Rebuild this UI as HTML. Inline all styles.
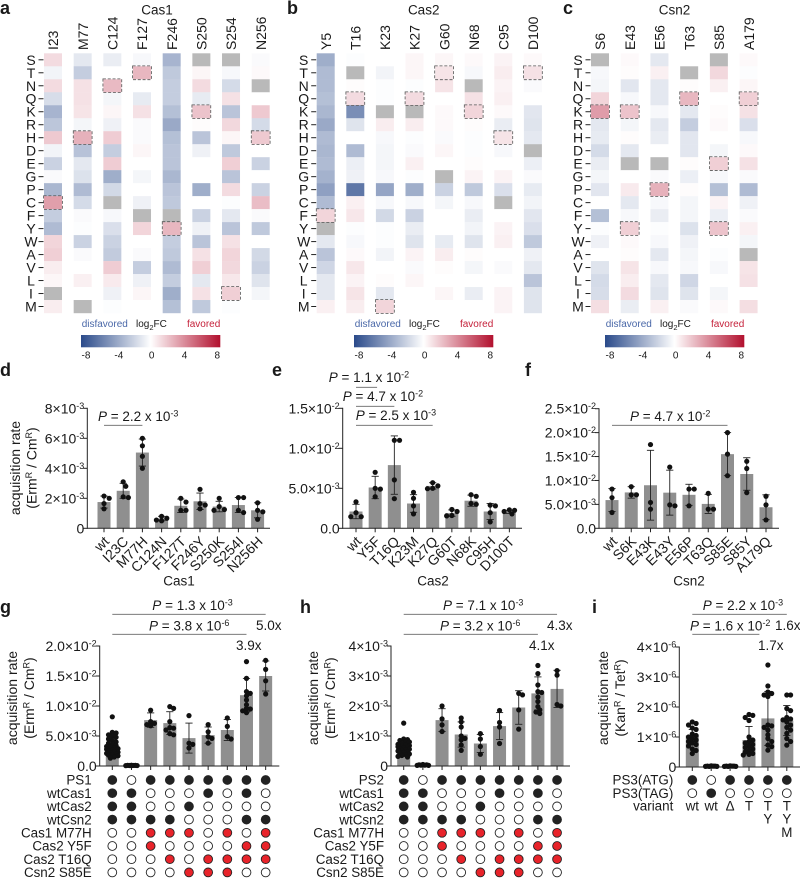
<!DOCTYPE html>
<html>
<head>
<meta charset="utf-8">
<title>Cas1 Cas2 Csn2 variant figure</title>
<style>
html,body{margin:0;padding:0;background:#fff;width:800px;height:878px;overflow:hidden}
svg{display:block}
text{font-family:"Liberation Sans",Arial,sans-serif;fill:#1a1a1a}
</style>
</head>
<body>
<svg id="figure" width="800" height="878" viewBox="0 0 800 878" xmlns="http://www.w3.org/2000/svg">
<defs>
<linearGradient id="heat-gradient" x1="0" x2="1" y1="0" y2="0">
<stop offset="0" stop-color="#2a4a8a"/>
<stop offset="0.5" stop-color="#ffffff"/>
<stop offset="1" stop-color="#b2102e"/>
</linearGradient>
</defs>
<g id="panel-a"></g>
<g id="panel-b"></g>
<g id="panel-c"></g>
<g id="panel-d"></g>
<g id="panel-e"></g>
<g id="panel-f"></g>
<g id="panel-g"></g>
<g id="panel-h"></g>
<g id="panel-i"></g>
<g id="letters">
<text x="0" y="14" font-size="18" font-weight="bold">a</text>
<text x="287" y="14" font-size="18" font-weight="bold">b</text>
<text x="563" y="14" font-size="18" font-weight="bold">c</text>
<text x="0" y="376" font-size="18" font-weight="bold">d</text>
<text x="272" y="376" font-size="18" font-weight="bold">e</text>
<text x="525" y="376" font-size="18" font-weight="bold">f</text>
<text x="0" y="613" font-size="18" font-weight="bold">g</text>
<text x="300" y="613" font-size="18" font-weight="bold">h</text>
<text x="592" y="613" font-size="18" font-weight="bold">i</text>
</g>
</svg>
<script>
/* ---------- heatmap data (log2FC; null = no data, grey) ---------- */
const heatRows = ['S','T','N','Q','K','R','H','D','E','G','P','C','F','Y','W','A','V','L','I','M'];

const cas1Columns = ['I23','M77','C124','F127','F246','S250','S254','N256'];
const cas1Values = [
 [1.2,-0.5,1.2,-1.5,-3.3,-2.5,1.8,-0.5,-2,-0.2,-3.2,3.2,-2.2,-3,1.4,1.6,0.6,0.3,null,0.6],
 [-1,-2.2,1,1,0.9,-0.4,2.6,-2.7,-1,-1.3,-3,-1.6,-0.2,-0.1,-2,-0.2,0,0.5,0,null],
 [-0.8,0,2.3,-0.4,0.3,-0.6,1.7,-2.2,1.7,-3.6,-1.7,null,-0.3,-1.4,-2,-2.3,1.7,0.7,-0.6,-0.1],
 [-0.3,2.4,0,-0.9,1,-0.2,-0.2,0.3,0,-0.4,0,-0.6,null,1.4,0,-0.2,-2.2,-0.6,0.3,0],
 [-3.3,-2.4,-2.2,-2.2,-2.8,-3.8,-2.8,-2.6,-2.6,-3.2,-2.6,-2.4,null,2.4,-2.2,-2.4,-3,-2.2,-3.6,-2.8],
 [null,0.3,1.2,-0.9,2,0.1,-2.6,-0.6,0,0,-3.6,0,-2,-0.6,-2.6,1,1.6,-1,1,-2.4],
 [null,-0.3,-1.6,1,-2.6,1.3,0.3,-2.4,1.6,-2.6,1.2,-0.1,-1,-2.6,1,1.4,1.3,0.8,1.6,-0.1],
 [-0.2,0.2,null,0,1.8,-1.6,1.8,0,-2,0,-2,2.2,-0.2,-2.4,0,-1.7,-2,-1.2,-0.4,0]
];
const cas1Highlights = ['C','H','N','T','Y','K','I','H'];

const cas2Columns = ['Y5','T16','K23','K27','G60','N68','C95','D100'];
const cas2Values = [
 [-3.6,-3,-3,-2.8,-3.2,-3.8,-3,-3.2,-3,-3.4,-4.2,-3,1.4,null,-1,-2.6,-1.8,-1,-1,0.5],
 [-0.1,null,0.1,1.2,-5,-1.2,0,-3,-0.7,-0.6,-6,0.5,0.8,-0.1,-0.3,0.2,0.8,0.4,0.9,0.6],
 [0,-0.5,-0.1,-0.1,null,0.6,-0.3,-0.4,-0.4,-0.3,-4,-0.3,-1.7,-0.1,-0.1,-0.5,0,0.1,-1,1.4],
 [0.3,0.3,-0.1,1.2,null,0.6,-0.1,-0.2,0.5,-0.1,-3.6,-0.3,-2,-0.8,-1.2,0.4,-0.2,0.3,0,0],
 [0.3,0.9,0.9,0,0.2,0.2,-0.2,0.3,0,null,-2,-0.4,0,0,-0.9,0.6,0.1,0,0.3,0],
 [0.2,-0.3,null,1,1.4,0.1,-0.1,-0.1,0.1,0.4,-2.4,-0.3,-0.8,-0.5,-1.2,0.1,-0.4,0,-0.8,0],
 [0.4,0.6,0.4,0.5,0.2,-0.8,0.9,-0.3,0,0.4,-1.4,null,0,0.4,0.5,0,-0.2,0,0.4,0.4],
 [0.2,1,-0.2,0,-1.1,-1.2,-1,null,-0.7,-0.2,-0.9,-0.5,-1.1,-1.4,-2.4,-0.6,-1,-2.6,-1.2,-1.2]
];
const cas2Highlights = ['F','Q','M','Q','T','K','H','T'];

const csn2Columns = ['S6','E43','E56','T63','S85','A179'];
const csn2Values = [
 [null,-0.3,-0.4,1.4,3.3,-1,-0.9,-1.6,-0.8,-0.4,-1.1,0,-2.8,-0.1,-0.6,0,-1.2,-1.6,-1.5,1.1],
 [0.2,0.1,-1.1,-0.3,2,-0.4,0.1,-1,null,0,0.7,-1,-0.3,1.6,0.2,0.1,0.9,0.6,1.2,-0.8],
 [-1,0.5,-1,-1,-0.3,-1,-0.8,0,null,-0.2,2.6,-0.3,-0.8,-0.1,-0.3,-1,-0.3,-1,-1.2,0.5],
 [0,null,0.1,2.4,-1,-2.2,-1.1,-1.1,0.1,-0.7,0.1,-0.4,-0.4,-1.3,-0.6,-0.4,-0.3,-1.8,-1.2,-0.2],
 [null,1.3,0.5,0,0.1,0.2,0,-0.4,1.6,-0.3,-2.8,0.4,-0.7,2,0,-0.1,-0.3,0,-0.4,0.2],
 [0.2,-0.1,0.3,1.6,1,-1.4,-0.3,0.2,1,-0.2,-3,-0.6,-0.2,0.5,-0.4,null,0.9,1,0,1.1]
];
const csn2Highlights = ['K','KY','P','Q','EY','Q'];
const colorbarTicks = [-8,-4,0,4,8];

/* ---------- panel d ---------- */
const dCategories = ['wt','I23C','M77H','C124N','F127T','F246Y','S250K','S254I','N256H'];
const dValues = [1.75,2.5,5.05,0.65,1.5,1.8,1.45,1.55,1.2];
const dErrors = [0.4,0.5,0.9,0.15,0.45,0.55,0.35,0.5,0.5];
const dPoints = [[2,2.15,1.3,1.65],[3.1,2.8,2.1,2.05],[6,5.5,4.8,4],[0.8,0.67,0.55,0.5],[2,1.75,1.2,1.2],[2.6,1.65,1.55,1.3],[2,1.45,1.25,1.2],[2.05,2.05,1.2,1.05],[1.7,1.2,1.1,0.6]];
const dTickValues = [0,2,4,6,8];
const dTickLabels = ['0','2×10^-3','4×10^-3','6×10^-3','8×10^-3'];

/* ---------- panel e ---------- */
const eCategories = ['wt','Y5F','T16Q','K23M','K27Q','G60T','N68K','C95H','D100T'];
const eValues = [2.1,5.1,7.9,3.1,5.3,1.9,3.45,2.1,2.05];
const eErrors = [0.9,1.4,3.65,1.1,0.4,0.4,0.7,1,0.2];
const ePoints = [[3.3,1.95,1.45,1.45],[7,5,4.9,3.95],[11,11,6.05,3.7],[4.5,3.75,2.8,1.8],[5.7,5.3,5,4.95],[2.35,2.1,1.6,1.55],[4.2,4,3.1,3],[2.9,2.8,1.95,0.8],[2.3,2.25,2.1,1.8]];
const eTickValues = [0,5,10,15];
const eTickLabels = ['0.0','5.0×10^-3','1.0×10^-2','1.5×10^-2'];

/* ---------- panel f ---------- */
const fCategories = ['wt','S6K','E43K','E43Y','E56P','T63Q','S85E','S85Y','A179Q'];
const fValues = [5.9,7.5,9,7.45,7,5.1,15.5,11.35,4.4];
const fErrors = [2.4,1.2,7.3,4.7,2.2,2,4.5,3.4,2.6];
const fPoints = [[8.2,6.4,3.3],[8.7,7,7],[17.5,5.4,4],[12.8,4.9,4.7],[8.2,8.2,4.7],[7.3,4,4],[20,15.5,11],[14,12.5,7.45],[6.7,4.9,1.75]];
const fTickValues = [0,5,10,15,20,25];
const fTickLabels = ['0.0','5.0×10^-3','1.0×10^-2','1.5×10^-2','2.0×10^-2','2.5×10^-2'];

/* ---------- panel g ---------- */
const gValues = [3.05,0.1,7.65,7.15,4.65,5.15,6,11.8,15];
const gErrors = [1.3,0,1.2,1.9,2.5,1.35,1.75,2.8,2.5];
const gPoints = [
 [8.2,5.6,5.5,5.2,5,4.8,4.5,4.3,4,3.8,3.6,3.4,3.25,3.1,3,2.9,2.8,2.7,2.6,2.5,2.4,2.3,2.2,2.1,2,1.9,1.8,1.7,1.5,1.3],
 [0.05,0.1,0.08,0.12,0.06,0.09,0.1,0.07],
 [9.3,7.4,7.1,6.9,6.7],[9.9,9.6,7.4,6.4,6.3,6,5.4,5.2],[8.4,3.8,3.6,3],[6.9,5.7,4.9,4.6,3.8],[8,6.6,4.9,4.5],
 [17.4,14.6,12.4,12.1,11.7,11,10.2,9.6,9.5,9.2,8.9],[17.6,16.1,14.2,12]
];
const gTickValues = [0,5,10,15,20];
const gTickLabels = ['0.0','5.0×10^-3','1.0×10^-2','1.5×10^-2','2.0×10^-2'];
const gMatrixLabels = ['PS1','wtCas1','wtCas2','wtCsn2','Cas1 M77H','Cas2 Y5F','Cas2 T16Q','Csn2 S85E'];
const gMatrix = ['FOFFFFFFF','FFOOOFOFO','FFOOFOOOO','FFFFOOOFF','OORRROROR','OOROOOORR','OOORORRRR','OOOORRROO'];

/* ---------- panel h ---------- */
const hValues = [0.65,0.03,1.53,1.05,0.75,1.33,1.95,2.42,2.57];
const hErrors = [0.25,0,0.38,0.42,0.3,0.45,0.56,0.55,0.62];
const hPoints = [
 [1.43,0.9,0.88,0.85,0.82,0.8,0.75,0.72,0.7,0.68,0.66,0.64,0.62,0.6,0.58,0.56,0.54,0.52,0.5,0.47,0.45,0.43,0.4,0.38,0.35,0.32,0.3],
 [0.02,0.04,0.03,0.05,0.02,0.03,0.04],
 [2,1.57,1.37,1.15],[1.6,1.47,1.3,1,0.92,0.87,0.7,0.52],[1.08,0.9,0.65,0.39],[1.85,1.45,1.3,0.75],[2.42,2.37,1.87,1.23],
 [3.35,3.08,2.7,2.48,2.45,2.3,2.15,1.98,1.87,1.8,1.75],[3.18,3.03,2.05,2]
];
const hTickValues = [0,1,2,3,4];
const hTickLabels = ['0','1×10^-3','2×10^-3','3×10^-3','4×10^-3'];
const hMatrixLabels = ['PS2','wtCas1','wtCas2','wtCsn2','Cas1 M77H','Cas2 Y5F','Cas2 T16Q','Csn2 S85E'];
const hMatrix = ['FOFFFFFFF','FFOOOFOFO','FFOOFOOOO','FFFFOOOFF','OORRROROR','OOROOOORR','OOORORRRR','OOOORRROO'];

/* ---------- panel i ---------- */
const iValues = [1.05,0.02,0.02,0.9,1.62,1.55];
const iErrors = [0.2,0,0,0.45,0.9,0.5];
const iPoints = [
 [1.5,1.45,1.4,1.3,1.25,1.1,1.05,1,0.95,0.9,0.85,0.8,0.75,0.7,0.6,0.55,0.45],
 [0.02,0.03,0.02,0.04,0.03,0.02,0.03],[0.02,0.03,0.02,0.04,0.03,0.02,0.03],
 [1.75,1.72,1.65,1.55,1,0.9,0.85,0.8,0.75,0.7,0.65,0.6,0.55,0.5,0.45,0.42,0.4],
 [3.4,2.7,2.5,2.45,2.4,2.35,1.4,1.37,1.32,1.23,1.07,0.95,0.85,0.73,0.68,0.56],
 [2.4,2.4,1.95,1.88,1.65,1.6,1.57,1.5,1.4,1.32,1.23,1.12,0.95,0.85,0.73]
];
const iTickValues = [0,1,2,3,4];
const iTickLabels = ['0','1×10^-6','2×10^-6','3×10^-6','4×10^-6'];
const iMatrixLabels = ['PS3(ATG)','PS3(TAG)'];
const iMatrix = ['FOFFFF','OFOOOO'];
const iVariantLabel = 'variant';
const iVariants = [['wt'],['wt'],['Δ'],['T'],['T','Y'],['T','Y','M']];

/* ---------- helpers ---------- */
const NS = 'http://www.w3.org/2000/svg';
function svgEl(tag, attrs, parent){
  const el = document.createElementNS(NS, tag);
  for (const k in attrs) el.setAttribute(k, attrs[k]);
  parent.appendChild(el);
  return el;
}
function linearScale(d0, d1, r0, r1){
  return v => r0 + (v - d0) * (r1 - r0) / (d1 - d0);
}
function richText(el, str){
  const parts = str.split(/\^([^\s)]+)/);
  let pendingDrop = false;
  parts.forEach((p, i) => {
    if (i % 2 === 1) {
      const t = svgEl('tspan', {dy: -4.5, 'font-size': 9}, el);
      t.textContent = p;
      pendingDrop = true;
    } else {
      let rest = p;
      const a = {};
      if (pendingDrop) { a.dy = 4.5; pendingDrop = false; }
      if (rest.startsWith('P =')) {
        const it = svgEl('tspan', {'font-style': 'italic'}, el);
        it.textContent = 'P';
        rest = rest.slice(1);
      }
      if (rest.length || a.dy) {
        const t = svgEl('tspan', a, el);
        t.textContent = rest.length ? rest : '\u200b';
      }
    }
  });
}
function heatColor(v){
  const neg = [42,74,138], pos = [178,16,46];
  const end = v < 0 ? neg : pos;
  const t = Math.min(1, Math.abs(v) / 8);
  return 'rgb(' + end.map(c => Math.round(255 + (c - 255) * t)).join(',') + ')';
}
/* Bee-swarm offset so points that would collide sit side by side. */
function swarm(points, yScale, minDist, step){
  const placed = [];
  const order = points.slice().sort((a, b) => b - a);
  order.forEach(v => {
    const y = yScale(v);
    const cands = [0,1,-1,2,-2,3,-3].map(k => k * step);
    let best = 0, bestScore = -1;
    for (const off of cands) {
      let d = Infinity;
      placed.forEach(p => { d = Math.min(d, Math.hypot(p.off - off, p.y - y)); });
      if (d >= minDist) { best = off; bestScore = Infinity; break; }
      if (d > bestScore) { bestScore = d; best = off; }
    }
    placed.push({value: v, y: y, off: best});
  });
  return placed;
}

/* ---------- heatmap ---------- */
function drawHeatmap(o){
  const g = document.getElementById(o.id);
  const xPos = i => o.x0 + i * o.colStep;
  const yPos = linearScale(0, heatRows.length, 53.3, 313);
  const cw = 18, rh = yPos(1) - yPos(0);

  const title = svgEl('text', {x: o.titleX, y: 14.5, 'font-size': 13.5, 'text-anchor': 'middle'}, g);
  title.textContent = o.title;
  
  

  heatRows.forEach((r, ri) => {
    const cy = yPos(ri) + rh / 2;
    const lab = svgEl('text', {x: o.x0 - 13, y: cy + 5, 'font-size': 14, 'text-anchor': 'middle'}, g);
    lab.textContent = r;
    
    
    const tick = svgEl('line', {x1: o.x0 - 5.5, x2: o.x0 - 0.5, y1: cy, y2: cy, stroke: '#222', 'stroke-width': 1}, g);
    
    
  });

  o.columns.forEach((c, ci) => {
    const cx = xPos(ci) + cw / 2;
    const lab = svgEl('text', {x: cx + 5.2, y: 50, 'font-size': 14, transform: 'rotate(-90 ' + (cx + 5.2) + ' 50)'}, g);
    lab.textContent = c;
    
    
    o.values[ci].forEach((v, ri) => {
      const cell = svgEl('rect', {x: xPos(ci), y: yPos(ri), width: cw, height: rh + 0.2, fill: v === null ? '#b9b9b9' : heatColor(v)}, g);
      
      
    });
  });
  o.columns.forEach((c, ci) => {
    heatRows.forEach((r, ri) => {
      if (o.highlights[ci].indexOf(r) < 0) return;
      const box = svgEl('rect', {x: xPos(ci) - 0.4, y: yPos(ri) - 0.4, width: cw + 0.8, height: rh + 0.8, fill: 'none', stroke: '#555', 'stroke-width': 0.8, 'stroke-dasharray': '3 1.8'}, g);
      
      
    });
  });

  const dx = o.barX;
  const tickX = linearScale(-8, 8, dx + 5, dx + 136.3);
  const dis = svgEl('text', {x: dx + 0.7, y: 327, 'font-size': 10, style: 'fill:#4a68a8'}, g);
  dis.textContent = 'disfavored';
  
  
  const lg = svgEl('text', {x: dx + 55, y: 327, 'font-size': 10}, g);
  richLog(lg);
  
  
  const fav = svgEl('text', {x: dx + 139.3, y: 327, 'font-size': 10, 'text-anchor': 'end', style: 'fill:#c5213a'}, g);
  fav.textContent = 'favored';
  
  
  const bar = svgEl('rect', {x: dx, y: 335, width: 139.3, height: 12.3, fill: 'url(#heat-gradient)'}, g);
  
  
  colorbarTicks.forEach(t => {
    const tl = svgEl('text', {x: tickX(t), y: 358.3, 'font-size': 10, 'text-anchor': 'middle'}, g);
    tl.textContent = String(t);
    
    
  });
}
function richLog(el){
  const a = svgEl('tspan', {}, el);
  a.textContent = 'log';
  const b = svgEl('tspan', {dy: 3, 'font-size': 7.5}, el);
  b.textContent = '2';
  const c = svgEl('tspan', {dy: -3}, el);
  c.textContent = 'FC';
}

/* ---------- bar chart ---------- */
function drawBars(o){
  const g = document.getElementById(o.id);
  const y = linearScale(o.yDomain[0], o.yDomain[1], o.y0, o.yTop);
  const x = i => o.firstCenter + i * o.step;

  const yAxis = svgEl('line', {x1: o.x0, x2: o.x0, y1: o.yTop - 0.5, y2: o.y0 + 0.5, stroke: '#222', 'stroke-width': 1}, g);
  
  

  o.values.forEach((v, i) => {
    const bar = svgEl('rect', {x: x(i) - 6.5, y: y(v), width: 13, height: o.y0 - y(v), fill: '#8f8f8f'}, g);
    
    
  });

  const xAxis = svgEl('line', {x1: o.x0, x2: o.axisEnd, y1: o.y0, y2: o.y0, stroke: '#222', 'stroke-width': 1}, g);
  
  

  o.values.forEach((v, i) => {
    const tick = svgEl('line', {x1: x(i), x2: x(i), y1: o.y0, y2: o.y0 + 4, stroke: '#222', 'stroke-width': 1}, g);
    
    
  });

  o.tickValues.forEach((t, i) => {
    const tick = svgEl('line', {x1: o.x0 - 4, x2: o.x0, y1: y(t), y2: y(t), stroke: '#222', 'stroke-width': 1}, g);
    
    
    const lab = svgEl('text', {x: o.x0 - 3, y: y(t) + 5, 'font-size': 14, 'text-anchor': 'end'}, g);
    richText(lab, o.tickLabels[i]);
    
    
  });

  o.errors.forEach((e, i) => {
    if (!e) return;
    const hi = y(o.values[i] + e), lo = y(Math.max(0, o.values[i] - e));
    const stem = svgEl('line', {x1: x(i), x2: x(i), y1: hi, y2: lo, stroke: '#222', 'stroke-width': 0.9}, g);
    
    
    const capT = svgEl('line', {x1: x(i) - 3.6, x2: x(i) + 3.6, y1: hi, y2: hi, stroke: '#222', 'stroke-width': 0.9}, g);
    
    
    const capB = svgEl('line', {x1: x(i) - 3.6, x2: x(i) + 3.6, y1: lo, y2: lo, stroke: '#222', 'stroke-width': 0.9}, g);
    
    
  });

  o.points.forEach((pts, i) => {
    swarm(pts, y, o.minDist || 5, o.swarmStep || 2.6).forEach(p => {
      const c = svgEl('circle', {cx: x(i) + p.off, cy: p.y, r: 2.6, fill: '#111'}, g);
      
      
    });
  });

  if (o.categories) {
    o.categories.forEach((c, i) => {
      const tx = x(i) + 6, ty = o.y0 + 14;
      const lab = svgEl('text', {x: tx, y: ty, 'font-size': 14, 'text-anchor': 'end', transform: 'rotate(-45 ' + tx + ' ' + ty + ')'}, g);
      lab.textContent = c;
      
      
    });
    const cap = svgEl('text', {x: o.captionX, y: 585.7, 'font-size': 13.5, 'text-anchor': 'middle'}, g);
    cap.textContent = o.caption;
    
    
  }

  if (o.yTitle) {
    o.yTitle.forEach((t, i) => {
      const tx = o.yTitleX[i], ty = o.yTitleY;
      const lab = svgEl('text', {x: tx, y: ty, 'font-size': 14, 'text-anchor': 'middle', transform: 'rotate(-90 ' + tx + ' ' + ty + ')'}, g);
      richText(lab, t);
      
      
    });
  }

  (o.sig || []).forEach(s => {
    const line = svgEl('line', {x1: x(s.from), x2: x(s.to), y1: s.y, y2: s.y, stroke: '#666', 'stroke-width': 0.9}, g);
    
    
    const lab = svgEl('text', {x: s.textX, y: s.textY, 'font-size': 13.5}, g);
    richText(lab, s.text);
    
    
  });

  (o.folds || []).forEach(f => {
    const lab = svgEl('text', {x: f.x, y: f.y, 'font-size': 13.5}, g);
    lab.textContent = f.text;
    
    
  });

  (o.matrix || []).forEach((row, ri) => {
    const my = 780 + ri * 13.2;
    const lab = svgEl('text', {x: o.matrixLabelX, y: my + 4.7, 'font-size': 13.4, 'text-anchor': 'end'}, g);
    lab.textContent = o.matrixLabels[ri];
    
    
    row.split('').forEach((s, ci) => {
      const fill = s === 'F' ? '#222' : s === 'R' ? '#e8232a' : '#fff';
      const dot = svgEl('circle', {cx: x(ci), cy: my, r: 4.4, fill: fill, stroke: '#222', 'stroke-width': 0.9}, g);
      
      
    });
  });
}

/* ---------- draw ---------- */
drawHeatmap({id: 'panel-a', x0: 44, colStep: 29.67, columns: cas1Columns, values: cas1Values, highlights: cas1Highlights, title: 'Cas1', titleX: 157, barX: 81});
drawHeatmap({id: 'panel-b', x0: 316.7, colStep: 29.6, columns: cas2Columns, values: cas2Values, highlights: cas2Highlights, title: 'Cas2', titleX: 423.7, barX: 354});
drawHeatmap({id: 'panel-c', x0: 591, colStep: 29.72, columns: csn2Columns, values: csn2Values, highlights: csn2Highlights, title: 'Csn2', titleX: 674.5, barX: 605});

drawBars({id: 'panel-d', x0: 87.3, y0: 528.3, yTop: 408.3, yDomain: [0, 8], firstCenter: 104, step: 19.2, axisEnd: 270,
  values: dValues, errors: dErrors, points: dPoints, tickValues: dTickValues, tickLabels: dTickLabels,
  categories: dCategories, caption: 'Cas1', captionX: 179,
  yTitle: ['acquisition rate', '(Erm^R / Cm^R)'], yTitleX: [20, 36.5], yTitleY: 468,
  sig: [{from: 0, to: 2, y: 425.3, text: 'P = 2.2 x 10^-3', textX: 98, textY: 421}]});

drawBars({id: 'panel-e', x0: 342.7, y0: 528.3, yTop: 408.3, yDomain: [0, 15], firstCenter: 356, step: 19.17, axisEnd: 522,
  values: eValues, errors: eErrors, points: ePoints, tickValues: eTickValues, tickLabels: eTickLabels,
  categories: eCategories, caption: 'Cas2', captionX: 433,
  sig: [{from: 0, to: 1.1, y: 387.3, text: 'P = 1.1 x 10^-2', textX: 328.7, textY: 382},
        {from: 0, to: 2, y: 406.3, text: 'P = 4.7 x 10^-2', textX: 342.7, textY: 401},
        {from: 0, to: 4, y: 425.3, text: 'P = 2.5 x 10^-3', textX: 355.7, textY: 420}]});

drawBars({id: 'panel-f', x0: 599, y0: 528.3, yTop: 408.7, yDomain: [0, 25], firstCenter: 612, step: 19.25, axisEnd: 779,
  values: fValues, errors: fErrors, points: fPoints, tickValues: fTickValues, tickLabels: fTickLabels,
  categories: fCategories, caption: 'Csn2', captionX: 689,
  sig: [{from: 0, to: 6, y: 425.3, text: 'P = 4.7 x 10^-2', textX: 630, textY: 421}]});

drawBars({id: 'panel-g', x0: 99.7, y0: 766, yTop: 646, yDomain: [0, 20], firstCenter: 112.3, step: 19.17, axisEnd: 279.3,
  values: gValues, errors: gErrors, points: gPoints, tickValues: gTickValues, tickLabels: gTickLabels, minDist: 3.6, swarmStep: 1.9,
  yTitle: ['acquisition rate', '(Erm^R / Cm^R)'], yTitleX: [17, 34], yTitleY: 698,
  sig: [{from: 0, to: 8, y: 614.3, text: 'P = 1.3 x 10^-3', textX: 152.3, textY: 610},
        {from: 0, to: 7, y: 634.3, text: 'P = 3.8 x 10^-6', textX: 149, textY: 630.7}],
  folds: [{text: '5.0x', x: 256, y: 630}, {text: '3.9x', x: 236, y: 650}],
  matrix: gMatrix, matrixLabels: gMatrixLabels, matrixLabelX: 91.7});

drawBars({id: 'panel-h', x0: 391, y0: 766, yTop: 646, yDomain: [0, 4], firstCenter: 403.7, step: 19.17, axisEnd: 570,
  values: hValues, errors: hErrors, points: hPoints, tickValues: hTickValues, tickLabels: hTickLabels, minDist: 3.6, swarmStep: 1.9,
  yTitle: ['acquisition rate', '(Erm^R / Cm^R)'], yTitleX: [318, 335], yTitleY: 698,
  sig: [{from: 0, to: 8, y: 614.3, text: 'P = 7.1 x 10^-3', textX: 443, textY: 610},
        {from: 0, to: 7, y: 634.3, text: 'P = 3.2 x 10^-6', textX: 440, textY: 630.7}],
  folds: [{text: '4.3x', x: 547, y: 630}, {text: '4.1x', x: 529, y: 650}],
  matrix: hMatrix, matrixLabels: hMatrixLabels, matrixLabelX: 384});

drawBars({id: 'panel-i', x0: 679.3, y0: 767, yTop: 647, yDomain: [0, 4], firstCenter: 692.3, step: 18.9, axisEnd: 800,
  values: iValues, errors: iErrors, points: iPoints, tickValues: iTickValues, tickLabels: iTickLabels, minDist: 3.6, swarmStep: 1.9,
  yTitle: ['acquisition rate', '(Kan^R / Tet^R)'], yTitleX: [608, 625], yTitleY: 698,
  sig: [{from: 0, to: 5, y: 614.3, text: 'P = 2.2 x 10^-3', textX: 702.7, textY: 610},
        {from: 0, to: 3.55, y: 634.3, text: 'P = 1.6 x 10^-2', textX: 690, textY: 630.7}],
  folds: [{text: '1.6x', x: 775, y: 630}, {text: '1.7x', x: 758, y: 650}],
  matrix: iMatrix, matrixLabels: iMatrixLabels, matrixLabelX: 673.3});

(function(){
  const g = document.getElementById('panel-i');
  const vl = svgEl('text', {x: 673.3, y: 810.5, 'font-size': 13.4, 'text-anchor': 'end'}, g);
  vl.textContent = iVariantLabel;
  
  
  iVariants.forEach((lines, i) => {
    lines.forEach((t, li) => {
      const el = svgEl('text', {x: 692.3 + i * 18.9, y: 810.5 + li * 13.2, 'font-size': 13.4, 'text-anchor': 'middle'}, g);
      el.textContent = t;
      
      
    });
  });
})();
</script>
</body>
</html>
